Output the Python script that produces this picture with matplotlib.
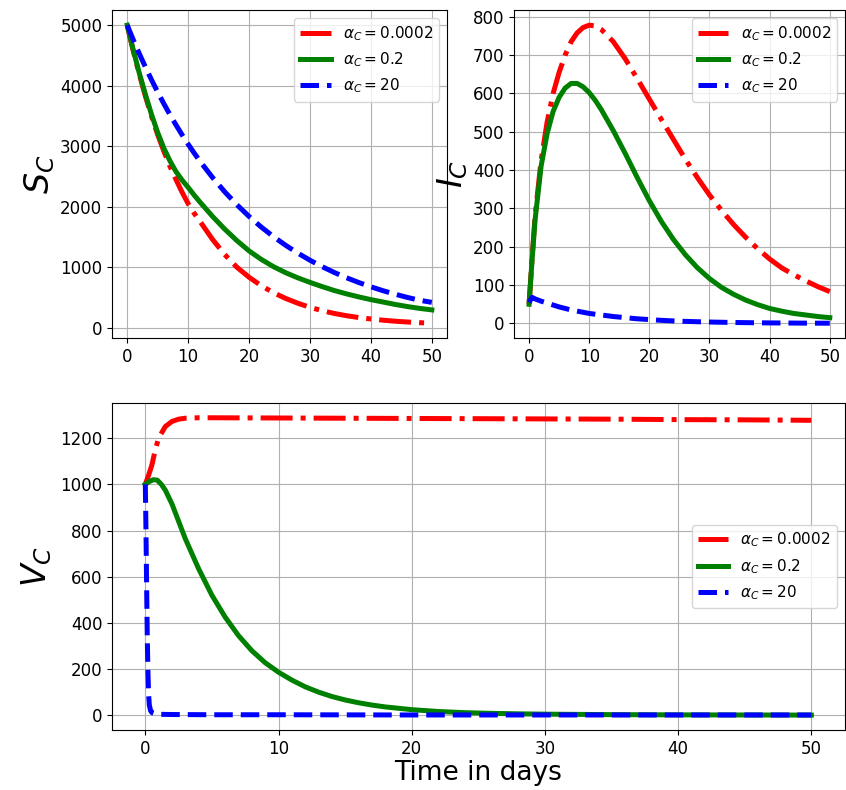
import matplotlib
matplotlib.use("Agg")
import matplotlib.pyplot as plt

# ---------------- data ----------------
t_top = [0, 0.5, 1, 2, 3, 4, 5, 6, 7, 8, 9, 10, 11, 12,
         14, 16, 18, 20, 22, 24, 26, 28, 30, 32, 34, 36, 38, 40, 42, 44, 46, 48, 50]

S_red = [5000, 4780, 4570, 4180, 3820, 3490, 3190, 2920, 2670, 2450, 2240, 2050, 1890, 1750,
         1460, 1210, 1000, 835, 695, 580, 485, 405, 338, 282, 236, 199, 169, 145, 125, 108, 95, 84, 75]
S_green = [5000, 4790, 4585, 4200, 3850, 3520, 3225, 2970, 2760, 2580, 2440, 2320, 2190, 2070,
           1840, 1630, 1440, 1270, 1130, 1010, 910, 825, 750, 680, 615, 560, 510, 465, 425, 385, 350, 320, 295]
S_blue = [5000, 4877, 4756, 4524, 4304, 4094, 3894, 3704, 3523, 3352, 3188, 3033, 2885, 2744,
          2483, 2247, 2033, 1839, 1664, 1506, 1363, 1233, 1116, 1009, 913, 826, 748, 677, 612, 554, 501, 454, 420]

I_red = [50, 170, 280, 425, 525, 600, 655, 700, 735, 758, 772, 778, 776, 767,
         735, 690, 638, 585, 532, 480, 428, 380, 335, 295, 258, 225, 195, 168, 145, 127, 111, 96, 83]
I_green = [50, 165, 270, 410, 495, 553, 590, 614, 626, 626, 617, 602, 582, 558,
           503, 443, 380, 320, 266, 219, 179, 145, 117, 94, 76, 61, 49, 39, 32, 26, 22, 18, 15]
I_blue = [55, 68, 64, 58, 53, 48, 43, 39, 35, 32, 29, 26, 24, 22,
          18, 15, 12, 10, 8, 6.5, 5.3, 4.4, 3.6, 3, 2.4, 2, 1.6, 1.3, 1.1, 0.9, 0.7, 0.6, 0.5]

t_V_red = [0, 0.25, 0.5, 0.75, 1, 1.5, 2, 2.5, 3, 4, 5, 10, 15, 20, 25, 30, 35, 40, 45, 50]
V_red = [1000, 1040, 1085, 1150, 1200, 1250, 1272, 1282, 1286, 1288, 1288, 1287, 1286, 1285,
         1284, 1283, 1282, 1280, 1279, 1277]

t_V_green = [0, 0.3, 0.6, 0.9, 1.2, 1.5, 2, 2.5, 3, 3.5, 4, 5, 6, 7, 8, 9, 10, 11, 12, 13, 14,
             15, 16, 17, 18, 20, 22, 24, 26, 28, 30, 35, 40, 45, 50]
V_green = [1000, 1012, 1020, 1018, 1000, 975, 915, 840, 765, 700, 635, 520, 425, 345, 280, 228,
           187, 153, 124, 101, 82, 67, 55, 45, 37, 25, 17, 12, 9, 7, 5.5, 3.5, 2.5, 2, 1.5]

t_V_blue = [0, 0.05, 0.1, 0.15, 0.2, 0.25, 0.3, 0.4, 0.5, 0.75, 1, 2, 5, 10, 20, 30, 40, 50]
V_blue = [1000, 800, 550, 330, 180, 90, 45, 20, 12, 7, 5, 4, 3, 3, 2, 2, 2, 2]

labels = [r'$\alpha_C = 0.0002$', r'$\alpha_C = 0.2$', r'$\alpha_C = 20$']
colors = ['red', 'green', 'blue']
styles = ['-.', '-', '--']

# ---------------- figure ----------------
fig = plt.figure(figsize=(8.46, 7.90), dpi=100)
ax1 = fig.add_axes([0.1324, 0.572, 0.396, 0.415])
ax2 = fig.add_axes([0.6076, 0.572, 0.391, 0.415])
ax3 = fig.add_axes([0.1324, 0.076, 0.866, 0.414])

lw = 3.6
for ax, series, ylab in [(ax1, [S_red, S_green, S_blue], r'$S_C$'),
                         (ax2, [I_red, I_green, I_blue], r'$I_C$')]:
    for y, c, s, lab in zip(series, colors, styles, labels):
        ax.plot(t_top, y, color=c, linestyle=s, linewidth=lw, label=lab)
    ax.set_ylabel(ylab, fontsize=24, labelpad=2)
    ax.grid(True)
    ax.tick_params(labelsize=12)
    ax.legend(loc='upper right', fontsize=11)
    ax.set_xticks([0, 10, 20, 30, 40, 50])

for tt, y, c, s, lab in zip([t_V_red, t_V_green, t_V_blue], [V_red, V_green, V_blue],
                            colors, styles, labels):
    ax3.plot(tt, y, color=c, linestyle=s, linewidth=lw, label=lab)
ax3.set_ylabel(r'$V_C$', fontsize=24)
ax3.set_xlabel('Time in days', fontsize=19, labelpad=2)
ax3.grid(True)
ax3.tick_params(labelsize=12)
ax3.set_xticks([0, 10, 20, 30, 40, 50])
ax3.legend(loc='center right', fontsize=11)

fig.savefig('out.png', dpi=100)
